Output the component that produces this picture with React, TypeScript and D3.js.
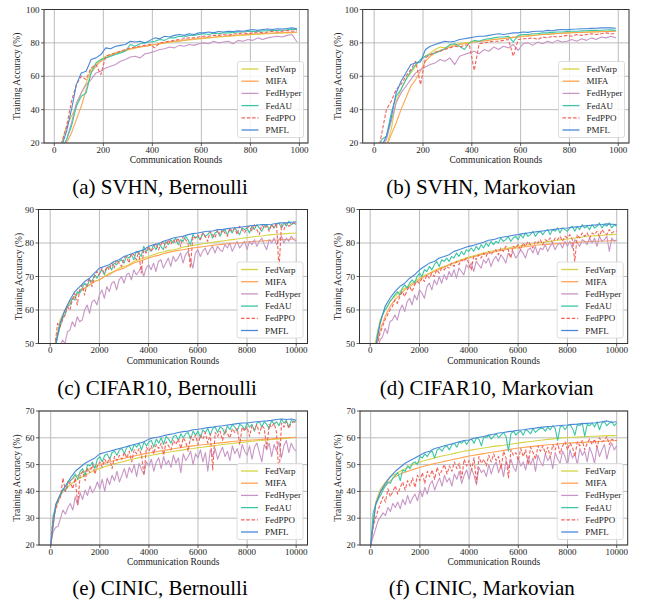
import React from 'react';
import * as d3 from 'd3';

const METHODS = ['FedVarp', 'MIFA', 'FedHyper', 'FedAU', 'FedPPO', 'PMFL'];
const COLORS = ['#d4d444', '#ffa352', '#c896c6', '#3cc6a6', '#f2625a', '#4a89d8'];

const svhnRounds = d3.range(10, 1000, 20);
const longRounds = d3.range(0, 10001, 200);
const longFineRounds = d3.range(0, 10001, 100);

const svhnXTicks = [0, 200, 400, 600, 800, 1000];
const longXTicks = [0, 2000, 4000, 6000, 8000, 10000];
const svhnYTicks = [20, 40, 60, 80, 100];
const cifarYTicks = [50, 60, 70, 80, 90];
const cinicYTicks = [20, 30, 40, 50, 60, 70];

// (a) SVHN, Bernoulli
const aFedVarp = [10, 20, 30, 36, 42, 50, 56, 64, 67, 70, 72, 73, 74, 75, 75.5, 76, 77, 77.5, 78, 78.5, 79, 79.5, 80, 80.3, 80.7, 81, 81.5, 81.8, 82, 82.3, 82.6, 83, 83.2, 83.5, 83.7, 84, 84.2, 84.4, 84.6, 84.8, 85, 85.2, 85.3, 85.5, 85.6, 85.8, 85.9, 86, 86.1, 86.2];
const aMIFA = [10, 15, 20, 26, 34, 42, 52, 62, 66, 69, 71, 72.5, 73.5, 74.5, 75.5, 76.5, 77, 77.5, 78, 78.5, 79, 79.5, 80, 80.5, 81, 81.3, 81.6, 82, 82.3, 82.6, 83, 83.3, 83.5, 83.8, 84, 84.2, 84.5, 84.7, 84.9, 85.1, 85.3, 85.5, 85.6, 85.8, 85.9, 86, 86.1, 86.2, 86.3, 86.4];
const aFedHyper = [10, 15, 22, 32, 44, 50, 55, 58, 62, 63, 65, 66, 67, 69, 70, 71.5, 72, 71, 73.5, 74, 75, 76, 76.5, 77.5, 77, 78.5, 78, 79, 78.5, 79.5, 80, 79.5, 81, 80, 80.5, 81, 79.5, 81.5, 81, 82, 81.5, 83, 82, 83, 83.5, 84, 83.5, 84.5, 85, 80.5];
const aFedAU = [10, 17, 22, 30, 42, 48, 50, 62, 68, 70, 71, 72, 73, 74, 75, 79, 78, 79.5, 80, 80.5, 81, 82, 81.5, 83, 83, 84, 83.5, 84.5, 84.5, 85, 85.5, 85, 85.8, 85.5, 86, 86, 86.3, 86.5, 86.5, 86.8, 87, 86.8, 87.2, 87.3, 87.5, 87.5, 87.6, 87.8, 88, 88];
const aFedPPO = [10, 20, 30, 45, 55, 60, 58, 65, 67, 61, 72, 73, 74, 75, 76, 77, 77.5, 78, 78.5, 79, 77, 80, 80.5, 81, 81.5, 82, 82.5, 83, 83, 83.5, 84, 84, 84.5, 84.5, 85, 84.5, 85.5, 85.5, 86, 85.5, 86, 86.5, 86, 86.5, 87, 86.5, 87, 87.5, 87, 87.2];
const aPMFL = [10, 18, 27, 40, 55, 62, 63, 70, 71, 73, 77, 76.5, 78, 78.5, 79, 81, 80.5, 81, 80, 81.5, 83, 82.5, 84, 83.5, 84.5, 85, 84.5, 85.5, 85, 86, 86, 86.5, 86, 86.8, 86.5, 87, 86.8, 87.2, 87, 87.5, 88, 87.5, 88, 88.3, 88, 88.5, 88.3, 88.6, 89, 88.5];

// (b) SVHN, Markovian
const bFedVarp = [5, 12, 18, 28, 45, 52, 58, 62, 66, 70, 72, 74, 76, 77.5, 77, 78.5, 79, 79.5, 80, 80.3, 80.7, 81, 81.3, 81.7, 82, 82.3, 82.6, 83, 83.3, 83.6, 84, 84.2, 84.5, 84.7, 85, 85.2, 85.4, 85.6, 85.8, 86, 86.1, 86.2, 86.3, 86.5, 86.6, 86.7, 86.8, 86.9, 87, 87];
const bMIFA = [5, 12, 18, 25, 32, 40, 47, 54, 58, 63, 69, 72, 74, 75.5, 76.5, 77.5, 78.3, 79, 79.5, 80, 80.4, 80.8, 81.2, 81.6, 82, 82.3, 82.6, 83, 83.3, 83.6, 84, 84.2, 84.5, 84.7, 85, 85.2, 85.4, 85.6, 85.8, 86, 86.1, 86.2, 86.3, 86.4, 86.5, 86.6, 86.7, 86.8, 86.9, 87];
const bFedHyper = [10, 18, 22, 33, 44, 50, 54, 58, 62, 64, 65.5, 67, 68, 70, 69, 71, 67, 72, 73, 74, 75, 73.5, 76, 75, 77.5, 76, 78, 77, 79, 75.5, 79.5, 80, 78.5, 80.5, 79.5, 81, 80, 81.5, 80.5, 81, 82, 81, 82.5, 81.5, 83, 82, 83.5, 83, 84, 83];
const bFedAU = [10, 22, 24, 38, 48, 52, 58, 63, 67, 70, 72, 73, 74, 75, 76.5, 79, 79.5, 78, 76, 80, 81.5, 81, 82, 82.5, 83, 83.5, 83.5, 84, 80.5, 84.5, 85, 85, 85.5, 85.5, 86, 86, 86.3, 86.5, 86.5, 86.8, 87, 87, 87.2, 87.3, 87.5, 87.5, 87.6, 87.7, 87.8, 87.5];
const bFedPPO = [10, 25, 40, 45, 52, 55, 60, 64, 69, 55, 71, 73, 74.5, 75, 76, 77, 78, 77.5, 78.5, 79, 63.5, 79.5, 80, 80.5, 81, 81, 81.5, 82, 72, 82, 82.5, 82.5, 83, 82, 83.5, 83, 84, 83.5, 84, 84.5, 84, 85, 84.5, 85, 85.5, 85, 85.5, 86, 85.5, 85.5];
const bPMFL = [10, 18, 24, 35, 50, 57, 62, 67, 68, 68.5, 76, 78, 79, 80, 81, 80.5, 81, 82, 82.5, 83, 83.5, 84, 84, 84.5, 85, 85.5, 85, 85.5, 86, 86, 86.5, 86.3, 86.8, 87, 87, 87.5, 87.3, 87.8, 88, 87.8, 88.2, 88.3, 88.5, 88.5, 88.7, 88.8, 89, 89, 89, 88.8];

// (c) CIFAR10, Bernoulli
const cFedVarp = [35, 50, 57, 60, 62.5, 64, 65.5, 66.5, 67.5, 68.5, 69, 70, 71, 71.5, 72.5, 73, 73.5, 74.5, 75, 75.5, 76, 76.5, 77, 77.3, 77.8, 78, 78.3, 78.8, 79, 79.3, 79.5, 79.8, 80, 80.2, 80.4, 80.6, 80.8, 81, 81.2, 81.4, 81.6, 81.8, 82, 82.1, 82.3, 82.5, 82.6, 82.7, 82.8, 82.9, 83];
const cMIFA = [35, 49, 56, 60, 62.5, 64, 65.5, 66.5, 67.5, 68.5, 69, 70, 70.5, 71.5, 72, 72.5, 73.3, 74, 74.5, 75, 75.5, 76, 76.3, 76.8, 77.2, 77.5, 77.8, 78, 78.3, 78.5, 78.7, 78.9, 79.1, 79.3, 79.5, 79.6, 79.8, 79.9, 80, 80.1, 80.3, 80.4, 80.5, 80.6, 80.7, 80.8, 80.9, 81, 81, 81.1, 81.2];
const cFedHyper = [
  30, 38, 44, 47, 49.5, 51, 50, 53.5, 54, 56.5,
  55, 58, 56.5, 57, 60, 61.5, 59, 62.5, 63, 61.5,
  64.5, 66, 63.5, 67, 65.5, 68, 68.5, 66, 69, 70,
  68, 70.5, 71, 69, 72, 70.5, 71.5, 73, 70, 72.5,
  73.5, 72, 74, 71.5, 74.5, 75, 72.5, 74, 75.5, 73,
  76, 74.5, 75.5, 77, 74, 76.5, 77.5, 75, 72.5, 77,
  78, 76, 77.5, 78.5, 76.5, 78, 79, 77, 79, 78,
  77.5, 79.5, 78.5, 80, 77.5, 79, 80.5, 78.5, 79.5, 80.5,
  78, 80.5, 79.5, 81, 79, 80.5, 81.5, 79.5, 78, 81,
  80, 81.5, 79.5, 81, 82, 80, 81.5, 80.5, 82, 81,
  80.5,
];
const cFedAU = [
  35, 44, 48, 52, 55, 57.5, 58.5, 61, 61.5, 63.5,
  63, 65.5, 65, 66.5, 68, 67, 69, 68.5, 70.5, 69.5,
  71, 72, 70.5, 72.5, 73, 72, 74, 73.5, 74.5, 75,
  74, 76, 75.5, 76.5, 75, 77.5, 77, 76, 79, 77.5,
  78.5, 77.5, 79.5, 78, 80, 79, 78, 80.5, 79.5, 81,
  80, 81.5, 79.5, 81, 80.5, 82, 81, 79.5, 82.5, 81.5,
  82, 81, 83, 82, 82.5, 83.5, 81.5, 83, 83.5, 82,
  83.5, 84, 82.5, 84, 83, 84.5, 83.5, 82.5, 84.5, 84,
  84.5, 83, 85, 84, 85.5, 84.5, 83.5, 85, 85.5, 84,
  85.5, 84.5, 85.5, 86, 84.5, 86, 85, 86.5, 85.5, 86,
  85.5,
];
const cFedPPO = [
  35, 44, 50, 56, 55, 57, 58.5, 61, 60, 63,
  65, 61.5, 66, 67.5, 64.5, 68, 69.5, 67, 70, 71.5,
  70.5, 72.5, 71, 73, 72, 74, 72.5, 75, 74, 73,
  75.5, 76, 74, 77, 76.5, 75, 77.5, 71, 78, 77,
  79, 77.5, 78.5, 80, 78, 79.5, 80.5, 78.5, 81, 79.5,
  81, 80, 81.5, 79, 82, 81, 80, 72.5, 82, 81.5,
  82.5, 81, 83, 82, 80.5, 83.5, 82.5, 81.5, 84, 82.5,
  84, 83, 82, 84.5, 83.5, 84.5, 82.5, 85, 84, 83,
  84.5, 85, 83.5, 85.5, 84, 82.5, 85.5, 84.5, 85, 83.5,
  85.5, 84.5, 86, 72, 85.5, 84, 86, 85, 85.5, 86,
  85.5,
];
const cPMFL = [35, 49, 56, 60, 63, 65.5, 67, 68.5, 69.5, 71, 72.5, 73, 73.5, 74.5, 75, 76, 76.5, 77, 77.5, 78, 79, 79.5, 79.8, 80.5, 81, 81.5, 81.8, 82, 82.5, 82.8, 83, 83.3, 83.5, 83.6, 84, 84, 84.3, 84.5, 84.6, 84.8, 85, 85.2, 85.3, 85.5, 85.5, 85.6, 85.8, 86, 86, 86.2, 86.3];

// (d) CIFAR10, Markovian
const dFedVarp = [35, 50, 57, 60, 62.5, 64, 65.5, 66.5, 67.5, 68.5, 69.5, 70.3, 71, 71.8, 72.5, 73, 73.6, 74.2, 74.8, 75.3, 75.8, 76.2, 76.6, 77, 77.4, 77.7, 78, 78.3, 78.5, 78.8, 79, 79.3, 79.5, 79.8, 80, 80.2, 80.4, 80.6, 80.8, 81, 81.2, 81.4, 81.6, 81.8, 82, 82.1, 82.2, 82.3, 82.4, 82.5, 82.6];
const dMIFA = [35, 47, 54, 58, 61, 63, 64.5, 66, 67, 68, 69, 70, 70.8, 71.5, 72.2, 72.8, 73.4, 74, 74.5, 75, 75.5, 75.9, 76.3, 76.7, 77, 77.3, 77.6, 77.9, 78.2, 78.4, 78.6, 78.8, 79, 79.2, 79.4, 79.5, 79.6, 79.7, 79.8, 79.9, 80, 80.1, 80.2, 80.3, 80.4, 80.5, 80.5, 80.6, 80.6, 80.7, 80.7];
const dFedHyper = [
  30, 40, 44, 48, 51, 52, 54.5, 53, 56.5, 57,
  58.5, 57, 60, 61.5, 59.5, 62.5, 63.5, 61.5, 64.5, 63,
  66, 65, 63.5, 67, 68, 66, 69, 67.5, 70, 68,
  70.5, 69, 71.5, 70, 72, 69.5, 72.5, 71.5, 70.5, 73.5,
  72.5, 74, 71.5, 74.5, 73.5, 72.5, 75, 74, 75.5, 73,
  75, 76, 74.5, 76.5, 75.5, 74, 77, 76, 77.5, 75.5,
  76.5, 78, 77, 75.5, 78, 78.5, 77, 79, 76.5, 78.5,
  78, 79.5, 77.5, 79, 80, 78, 79.5, 80, 78.5, 80.5,
  79, 80.5, 78.5, 81, 80, 79, 81, 80.5, 79.5, 81.5,
  80, 81.5, 79, 82, 80.5, 81, 82, 77.5, 81.5, 80.5,
  81,
];
const dFedAU = [
  35, 44, 48, 53, 56, 58.5, 60, 61, 62.5, 63.5,
  64.5, 65.5, 64.5, 66.5, 67.5, 66.5, 68, 69, 68, 70,
  71, 70, 72, 71.5, 73, 72, 73.5, 74.5, 73, 75,
  74.5, 75.5, 74.5, 76, 75.5, 77, 76, 77.5, 76.5, 78,
  77.5, 78.5, 77.5, 79, 78, 79.5, 78.5, 80, 79, 80.5,
  79.5, 80.5, 80, 81.5, 80.5, 81, 82, 80.5, 81.5, 82,
  81, 82.5, 81.5, 83, 82, 82.5, 83.5, 82, 83, 83.5,
  82.5, 83.5, 84, 82.5, 84, 83.5, 84.5, 83, 84.5, 84,
  83.5, 84.5, 85, 83.5, 85, 84, 85.5, 84.5, 85, 84,
  85.5, 84.5, 85, 86, 84.5, 85.5, 85, 86, 84.5, 85.5,
  85,
];
const dFedPPO = [
  35, 40, 46, 50, 53, 55, 57, 58.5, 60, 61,
  63, 62, 64, 65.5, 64, 66, 67, 65.5, 67.5, 68.5,
  68, 69.5, 68.5, 70.5, 69.5, 71, 70, 72, 71, 72.5,
  72, 73, 72.5, 74, 73, 74.5, 73.5, 75, 74.5, 75.5,
  74, 72, 76, 75, 76.5, 75.5, 77, 76, 77.5, 76.5,
  77.5, 78, 76.5, 78.5, 77.5, 79, 78, 75.5, 79, 78.5,
  79.5, 78, 80, 79, 80.5, 79.5, 78.5, 80.5, 80, 81,
  79.5, 81, 80.5, 81.5, 80, 81.5, 81, 82, 80.5, 82,
  81.5, 82.5, 81, 74.5, 82.5, 81.5, 83, 82, 83, 81.5,
  83, 82.5, 83.5, 82, 84, 83, 82.5, 84, 83, 83.5,
  83.5,
];
const dPMFL = [35, 48, 56, 61, 63.5, 65.5, 67, 68, 69.5, 70.5, 72, 73, 74, 74.5, 75.5, 76, 76.5, 77.5, 78, 78.5, 79, 79.3, 79.8, 80.2, 80.8, 81, 81.5, 81.8, 82, 82.3, 82.5, 82.8, 83, 83.2, 83.4, 83.6, 83.8, 84, 84.2, 84.4, 84.5, 84.7, 84.8, 85, 85.2, 85.3, 85.4, 85.5, 85.7, 85.6, 85.5];

// (e) CINIC, Bernoulli
const eFedVarp = [20, 34, 38.5, 41, 42.5, 44, 45, 46, 47, 48, 48.5, 49.2, 49.8, 50.3, 50.8, 51.2, 51.7, 52.2, 52.6, 53, 53.3, 53.7, 54, 54.3, 54.6, 55, 55.2, 55.5, 55.8, 56, 56.3, 56.5, 56.8, 57, 57.2, 57.5, 57.7, 57.9, 58.1, 58.3, 58.5, 58.7, 58.9, 59, 59.2, 59.4, 59.5, 59.7, 59.8, 60, 60.1];
const eMIFA = [20, 35, 39, 42, 44, 45.5, 46.5, 47.5, 48.5, 49.2, 50, 50.5, 51, 51.5, 52, 52.4, 52.8, 53.2, 53.6, 54, 54.3, 54.6, 55, 55.3, 55.6, 55.9, 56.2, 56.5, 56.8, 57, 57.2, 57.4, 57.6, 57.8, 58, 58.2, 58.4, 58.6, 58.8, 59, 59.1, 59.2, 59.3, 59.4, 59.5, 59.6, 59.8, 59.9, 60, 60.1, 60.2];
const eFedHyper = [
  20, 25, 26.5, 27, 30, 33, 31.5, 34, 35.5, 33,
  38, 35, 39.5, 37, 40.5, 38.5, 42, 39.5, 41, 43.5,
  41, 44.5, 40, 45, 42.5, 46, 44, 47.5, 43.5, 46,
  48.5, 45, 49, 47, 50, 45.5, 50.5, 48, 46.5, 51,
  49.5, 52, 47.5, 51, 52.5, 48.5, 53, 50, 51.5, 49,
  53.5, 50.5, 52.5, 47, 54, 51.5, 53, 55, 50, 54,
  52.5, 55.5, 51, 54.5, 47.5, 55.5, 53, 56, 52, 54.5,
  56.5, 53, 55, 51.5, 57, 54, 56, 52.5, 57.5, 55,
  53.5, 57, 52, 56.5, 58, 54.5, 51, 57.5, 55.5, 58,
  53, 57.5, 55, 58.5, 52.5, 57, 59, 54.5, 58, 56,
  55,
];
const eFedAU = [
  20, 31, 34, 37, 38.5, 41, 40, 43.5, 44, 45,
  46.5, 44.5, 47.5, 48.5, 46, 50, 49.5, 51, 48.5, 52,
  53, 51, 53.5, 54, 52, 54.5, 55, 53.5, 55.5, 56,
  54, 56.5, 57, 55, 57.5, 56.5, 58, 55.5, 58.5, 57,
  58.5, 59, 56.5, 59.5, 58, 60, 57.5, 60.5, 59.5, 58,
  60.5, 61, 59, 61.5, 60, 61.5, 62, 59.5, 62.5, 61,
  62.5, 60, 63, 62, 63.5, 61, 63.5, 64, 62, 64,
  63.5, 61.5, 64.5, 63, 65, 64, 62.5, 65, 64.5, 63,
  65.5, 64, 65, 62.5, 65.5, 66, 64, 66, 65, 63.5,
  66.5, 65, 66, 64.5, 67, 65.5, 66.5, 64, 66.5, 66,
  66,
];
const eFedPPO = [
  20, 30, 33, 36, 38, 45, 40, 42, 43.5, 41,
  45, 35, 46, 47.5, 44, 48.5, 47, 50, 46.5, 49.5,
  51, 49, 52, 50.5, 52.5, 48.5, 53, 51.5, 53.5, 52,
  54.5, 52.5, 55, 51, 55.5, 54, 56, 53.5, 46, 56.5,
  55, 57, 54, 57.5, 56, 58, 53.5, 58.5, 57, 55.5,
  59, 57.5, 59.5, 56, 60, 58.5, 55, 60.5, 59, 61,
  57.5, 61, 59.5, 62, 58, 61.5, 48, 62, 60.5, 62.5,
  59, 63, 61.5, 60, 63.5, 62, 63.5, 57.5, 64, 62.5,
  64, 60.5, 64.5, 63, 65, 61.5, 64.5, 63.5, 56, 65,
  64, 65.5, 62, 45, 65.5, 64, 66, 63.5, 65.5, 66,
  65.5,
];
const ePMFL = [20, 35, 39, 42, 45, 47.5, 49, 50.5, 51.5, 52.5, 54, 54.5, 55, 55.5, 56, 56.5, 57, 57.5, 58, 58.5, 59.5, 60, 60.3, 60.8, 61.2, 61.5, 62, 62.3, 62.5, 63, 63.2, 63.5, 63.8, 64, 64.3, 64.5, 64.8, 65, 65.3, 65.5, 65.5, 65.8, 66, 66.2, 66.3, 66.5, 66.8, 67, 66.8, 67, 66.5];

// (f) CINIC, Markovian
const fFedVarp = [20, 36, 41, 43.5, 45.5, 46.5, 47.5, 48.5, 49.5, 50.3, 51, 51.5, 52, 52.5, 53, 53.4, 53.8, 54.2, 54.6, 55, 55.3, 55.6, 55.9, 56.2, 56.5, 56.8, 57, 57.2, 57.5, 57.8, 58, 58.3, 58.5, 58.7, 59, 59.2, 59.4, 59.6, 59.8, 60, 60.1, 60.2, 60.3, 60.4, 60.5, 60.6, 60.6, 60.7, 60.7, 60.8, 60.8];
const fMIFA = [20, 35, 40, 42, 44, 45.5, 46.5, 47.2, 47.8, 48.4, 49, 49.5, 50, 50.4, 50.8, 51.2, 51.6, 52, 52.4, 52.8, 53.2, 53.5, 53.8, 54.1, 54.4, 54.7, 55, 55.3, 55.6, 55.9, 56.2, 56.4, 56.6, 56.8, 57, 57.2, 57.4, 57.5, 57.7, 57.9, 58, 58.1, 58.2, 58.3, 58.4, 58.5, 58.6, 58.7, 58.8, 58.9, 59];
const fFedHyper = [
  20, 23, 26, 29, 30.5, 32, 31, 34, 32.5, 35.5,
  34, 36, 33.5, 37, 35, 38.5, 35.5, 37.5, 39, 36.5,
  40.5, 38, 41.5, 39, 42.5, 44, 40.5, 43, 45, 42,
  46, 43.5, 45, 42, 46.5, 44.5, 47.5, 43, 46, 48,
  44.5, 48.5, 46, 42.5, 49, 47, 48, 45.5, 50, 46.5,
  49.5, 51, 47, 50, 45.5, 51.5, 48.5, 52, 49, 47.5,
  52.5, 49.5, 51, 48, 53, 50, 52.5, 47.5, 53.5, 51,
  49.5, 54, 51.5, 53, 48.5, 54.5, 52, 50.5, 55, 53,
  49.5, 55.5, 52.5, 54, 50, 56, 53.5, 55, 51, 56.5,
  54, 50.5, 57, 53, 55.5, 57.5, 52, 56, 58, 55.5,
  57,
];
const fFedAU = [
  20, 32, 35, 37, 38.5, 40.5, 42, 43.5, 43, 45,
  46, 47, 44, 48, 47.5, 49.5, 48.5, 50.5, 51, 50,
  53, 52.5, 54, 53, 54.5, 55, 52.5, 55.5, 56, 55,
  56.5, 57, 55.5, 57.5, 58, 56.5, 58.5, 58, 59, 57.5,
  59, 59.5, 58, 60, 59.5, 57, 60.5, 60, 61, 59.5,
  60.5, 61.5, 60, 61, 62, 60.5, 55, 61.5, 62.5, 61,
  62, 62.5, 61, 63, 62.5, 61.5, 63.5, 62, 63, 63.5,
  63.5, 62.5, 64, 63, 64.5, 63.5, 59, 64, 64.5, 63,
  64.5, 65, 63.5, 61, 65, 64.5, 65.5, 60.5, 65, 64.5,
  65.5, 64, 66, 63, 65.5, 66, 64.5, 65.5, 66, 64.5,
  65.5,
];
const fFedPPO = [
  20, 27, 30, 33, 35.5, 38, 36, 41, 38, 40,
  42, 39, 41.5, 43.5, 40.5, 44, 42, 45, 41.5, 46,
  44, 47, 43, 47.5, 45.5, 48, 44.5, 49, 46, 48,
  50, 46.5, 49.5, 47.5, 51, 48.5, 50.5, 45, 52, 49.5,
  51.5, 48, 52.5, 43, 53, 50.5, 52, 49.5, 53.5, 51,
  54, 51.5, 53, 48.5, 55, 52.5, 45, 55.5, 53.5, 54.5,
  51.5, 56, 53, 55.5, 50, 56.5, 54.5, 52, 57, 55,
  57, 54, 56.5, 52.5, 57.5, 55.5, 58, 54, 57, 58.5,
  55.5, 58, 56.5, 53, 58.5, 57, 59, 55.5, 58, 59.5,
  57.5, 59.5, 56.5, 60, 58.5, 59, 60.5, 57.5, 59.5, 59,
  59,
];
const fPMFL = [20, 35, 40, 43, 45.5, 47.5, 49, 50.5, 51.5, 52.5, 53.5, 54.5, 55, 56, 56.5, 57, 57.5, 58, 58.5, 59, 59.2, 59.8, 60.2, 60.5, 61, 61.3, 61.8, 62, 62.3, 62.5, 62.8, 63, 63.3, 63.5, 63.8, 64, 64.2, 64.3, 64.5, 64.7, 64.8, 65, 65.1, 65.3, 65.4, 65.5, 65.6, 66, 66.3, 65.8, 66];

type PanelCfg = {
  id: string;
  caption: string;
  L: number; R: number; T: number; B: number;
  xDomain: [number, number];
  yDomain: [number, number];
  xTicks: number[];
  yTicks: number[];
  rounds: number[];
  series: number[][];
  ylabX: number;
  capX: number;
  capY: number;
};

const panels: PanelCfg[] = [
  { id: 'a', caption: '(a) SVHN, Bernoulli', L: 44, R: 308, T: 9.5, B: 143, xDomain: [-42, 1035], yDomain: [20, 100], xTicks: svhnXTicks, yTicks: svhnYTicks, rounds: svhnRounds, series: [aFedVarp, aMIFA, aFedHyper, aFedAU, aFedPPO, aPMFL], ylabX: 17, capX: 160, capY: 194 },
  { id: 'b', caption: '(b) SVHN, Markovian', L: 362.7, R: 629, T: 9.5, B: 143, xDomain: [-47, 1044], yDomain: [20, 100], xTicks: svhnXTicks, yTicks: svhnYTicks, rounds: svhnRounds, series: [bFedVarp, bMIFA, bFedHyper, bFedAU, bFedPPO, bPMFL], ylabX: 338, capX: 481, capY: 194 },
  { id: 'c', caption: '(c) CIFAR10, Bernoulli', L: 38.5, R: 307.5, T: 209.5, B: 343.5, xDomain: [-476, 10459], yDomain: [50, 90], xTicks: longXTicks, yTicks: cifarYTicks, rounds: longRounds, series: [cFedVarp, cMIFA, cFedHyper, cFedAU, cFedPPO, cPMFL], ylabX: 18.5, capX: 157, capY: 394.5 },
  { id: 'd', caption: '(d) CIFAR10, Markovian', L: 359.5, R: 627.7, T: 209.5, B: 343.5, xDomain: [-434, 10446], yDomain: [50, 90], xTicks: longXTicks, yTicks: cifarYTicks, rounds: longRounds, series: [dFedVarp, dMIFA, dFedHyper, dFedAU, dFedPPO, dPMFL], ylabX: 337.7, capX: 486.7, capY: 394.5 },
  { id: 'e', caption: '(e) CINIC, Bernoulli', L: 39, R: 307.5, T: 411, B: 545, xDomain: [-477, 10461], yDomain: [20, 70], xTicks: longXTicks, yTicks: cinicYTicks, rounds: longRounds, series: [eFedVarp, eMIFA, eFedHyper, eFedAU, eFedPPO, ePMFL], ylabX: 17.3, capX: 160, capY: 595 },
  { id: 'f', caption: '(f) CINIC, Markovian', L: 360, R: 627.7, T: 411, B: 545, xDomain: [-435, 10447], yDomain: [20, 70], xTicks: longXTicks, yTicks: cinicYTicks, rounds: longRounds, series: [fFedVarp, fMIFA, fFedHyper, fFedAU, fFedPPO, fPMFL], ylabX: 337.7, capX: 481.7, capY: 595 },
];

const FONT = "'Liberation Serif', 'DejaVu Serif', serif";

function Panel({ cfg }: { cfg: PanelCfg }) {
  const x = d3.scaleLinear().domain(cfg.xDomain).range([cfg.L, cfg.R]);
  const y = d3.scaleLinear().domain(cfg.yDomain).range([cfg.B, cfg.T]);
  const makeLine = (s: number[]) => {
    const r = s.length === longFineRounds.length ? longFineRounds : cfg.rounds;
    return d3
      .line<number>()
      .x((_, i) => x(r[i]))
      .y((d) => y(d))(s) || '';
  };
  const clipId = `clip-${cfg.id}`;
  const lgR = cfg.R - 4.5;
  const lgB = cfg.B - 5.5;
  const lgW = 66;
  const lgH = 76;
  const lgL = lgR - lgW;
  const lgT = lgB - lgH;
  const fmt = d3.format('d');
  return (
    <g>
      <defs>
        <clipPath id={clipId}>
          <rect x={cfg.L} y={cfg.T} width={cfg.R - cfg.L} height={cfg.B - cfg.T} />
        </clipPath>
      </defs>
      {cfg.xTicks.map((t) => (
        <line key={`gx${t}`} x1={x(t)} x2={x(t)} y1={cfg.T} y2={cfg.B} stroke="#bcbcbc" strokeWidth={1} />
      ))}
      {cfg.yTicks.map((t) => (
        <line key={`gy${t}`} x1={cfg.L} x2={cfg.R} y1={y(t)} y2={y(t)} stroke="#bcbcbc" strokeWidth={1} />
      ))}
      <g clipPath={`url(#${clipId})`}>
        {cfg.series.map((s, i) => (
          <path
            key={METHODS[i]}
            d={makeLine(s)}
            fill="none"
            stroke={COLORS[i]}
            strokeWidth={1.1}
            strokeDasharray={METHODS[i] === 'FedPPO' ? '3.5,1.8' : undefined}
            strokeLinejoin="round"
          />
        ))}
      </g>
      <rect x={cfg.L} y={cfg.T} width={cfg.R - cfg.L} height={cfg.B - cfg.T} fill="none" stroke="#333" strokeWidth={1} />
      {cfg.xTicks.map((t) => (
        <g key={`tx${t}`}>
          <line x1={x(t)} x2={x(t)} y1={cfg.B} y2={cfg.B + 3} stroke="#333" strokeWidth={0.8} />
          <text x={x(t)} y={cfg.B + 9.5} fontSize={9} fontFamily={FONT} textAnchor="middle" fill="#222">
            {fmt(t)}
          </text>
        </g>
      ))}
      {cfg.yTicks.map((t) => (
        <g key={`ty${t}`}>
          <line x1={cfg.L - 3} x2={cfg.L} y1={y(t)} y2={y(t)} stroke="#333" strokeWidth={0.8} />
          <text x={cfg.L - 4.5} y={y(t) + 3} fontSize={9} fontFamily={FONT} textAnchor="end" fill="#222">
            {fmt(t)}
          </text>
        </g>
      ))}
      <text x={(cfg.L + cfg.R) / 2} y={cfg.B + 20} fontSize={9.5} fontFamily={FONT} textAnchor="middle" fill="#222">
        Communication Rounds
      </text>
      <text
        transform={`translate(${cfg.ylabX},${(cfg.T + cfg.B) / 2}) rotate(-90)`}
        fontSize={9.5}
        fontFamily={FONT}
        textAnchor="middle"
        dominantBaseline="central"
        fill="#222"
      >
        Training Accuracy (%)
      </text>
      <rect x={lgL} y={lgT} width={lgW} height={lgH} rx={2} fill="#fff" fillOpacity={0.85} stroke="#d4d4d4" strokeWidth={0.8} />
      {METHODS.map((m, i) => {
        const cy = lgT + 7.5 + i * 12.2;
        return (
          <g key={`lg${m}`}>
            <line
              x1={lgL + 4}
              x2={lgL + 21}
              y1={cy}
              y2={cy}
              stroke={COLORS[i]}
              strokeWidth={1.3}
              strokeDasharray={m === 'FedPPO' ? '3.5,1.8' : undefined}
            />
            <text x={lgL + 28} y={cy + 3} fontSize={9} fontFamily={FONT} fill="#222">
              {m}
            </text>
          </g>
        );
      })}
      <text x={cfg.capX} y={cfg.capY} fontSize={21} fontFamily={FONT} textAnchor="middle" fill="#000">
        {cfg.caption}
      </text>
    </g>
  );
}

export default function App() {
  return (
    <svg
      width={650}
      height={602}
      viewBox="0 0 650 602"
      style={{ position: 'absolute', left: 0, top: 0, display: 'block', background: '#fff' }}
    >
      <rect x={0} y={0} width={650} height={602} fill="#fff" />
      {panels.map((p) => (
        <Panel key={p.id} cfg={p} />
      ))}
    </svg>
  );
}
